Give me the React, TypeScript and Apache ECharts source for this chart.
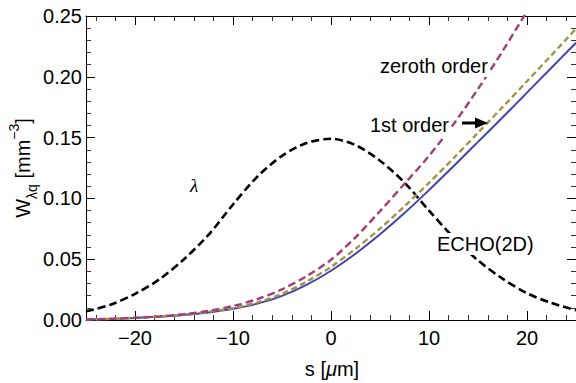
import React, { useEffect, useRef } from 'react';
import * as echarts from 'echarts';

const xs = [-25, -22.5, -20, -17.5, -15, -12.5, -10, -7.5, -5, -2.5, 0, 2.5, 5, 7.5, 10, 12.5, 15, 17.5, 20, 22.5, 25];
const lambdaVals = [0.0072, 0.0125, 0.0215, 0.0335, 0.05, 0.07, 0.095, 0.118, 0.135, 0.1455, 0.149, 0.1438, 0.131, 0.113, 0.09, 0.068, 0.049, 0.034, 0.022, 0.014, 0.008];
const echoVals = [0.0004, 0.0009, 0.0017, 0.0027, 0.0041, 0.0062, 0.0092, 0.0135, 0.0198, 0.0288, 0.0405, 0.0545, 0.0705, 0.088, 0.1068, 0.1265, 0.1465, 0.1665, 0.187, 0.2075, 0.228];
const firstVals = [0.0004, 0.001, 0.0018, 0.0029, 0.0045, 0.0068, 0.0098, 0.0145, 0.0215, 0.0315, 0.0437, 0.0585, 0.0752, 0.0935, 0.1128, 0.133, 0.154, 0.175, 0.1963, 0.2178, 0.2395];
const zerothVals = [0.0004, 0.001, 0.0018, 0.003, 0.0048, 0.0075, 0.0115, 0.0172, 0.0252, 0.036, 0.0495, 0.068, 0.0895, 0.112, 0.135, 0.161, 0.19, 0.221, 0.254, null, null];

const xMajor = [-20, -10, 0, 10, 20];
const xMinor = [-24, -22, -18, -16, -14, -12, -8, -6, -4, -2, 2, 4, 6, 8, 12, 14, 16, 18, 22, 24];
const yMajor = [0, 0.05, 0.1, 0.15, 0.2, 0.25];
const yMinor = [0.01, 0.02, 0.03, 0.04, 0.06, 0.07, 0.08, 0.09, 0.11, 0.12, 0.13, 0.14, 0.16, 0.17, 0.18, 0.19, 0.21, 0.22, 0.23, 0.24];

const FONT = 'Liberation Sans, Arial, sans-serif';

const pairs = (vals: (number | null)[]) => xs.map((x, i) => [x, vals[i]]);

export default function App() {
  const ref = useRef<HTMLDivElement>(null);
  useEffect(() => {
    const chart = echarts.init(ref.current!, null, { renderer: 'svg' });
    const mkX = (pos: 'top' | 'bottom', major: boolean, main: boolean) => ({
      type: 'value',
      position: pos,
      min: -25,
      max: 25,
      gridIndex: 0,
      axisLine: { show: major, onZero: false, lineStyle: { color: '#000', width: 1 } },
      axisTick: {
        show: true,
        inside: true,
        length: major ? 9 : 5,
        customValues: major ? xMajor : xMinor,
        lineStyle: { color: major ? '#000' : '#333', width: 1 },
      },
      axisLabel: {
        show: main,
        customValues: xMajor,
        margin: 8,
        fontSize: 20,
        fontFamily: FONT,
        color: '#000',
        formatter: (v: number) => String(v).replace('-', '\u2212'),
      },
      splitLine: { show: false },
    });
    const mkY = (pos: 'left' | 'right', major: boolean, main: boolean) => ({
      type: 'value',
      position: pos,
      min: 0,
      max: 0.25,
      gridIndex: 0,
      axisLine: { show: major, onZero: false, lineStyle: { color: '#000', width: 1 } },
      axisTick: {
        show: true,
        inside: true,
        length: major ? 9 : 5,
        customValues: major ? yMajor : yMinor,
        lineStyle: { color: major ? '#000' : '#333', width: 1 },
      },
      axisLabel: {
        show: main,
        customValues: yMajor,
        margin: 4,
        fontSize: 20,
        fontFamily: FONT,
        color: '#000',
        formatter: (v: number) => v.toFixed(2),
      },
      splitLine: { show: false },
    });

    const textStyle = (text: string) => ({
      text,
      fontSize: 20,
      fontFamily: FONT,
      fill: '#000',
      verticalAlign: 'middle',
      align: 'left',
      backgroundColor: '#fff',
      padding: [1, 2],
    });

    chart.setOption({
      animation: false,
      backgroundColor: '#fff',
      grid: { left: 86, top: 16, right: -2, bottom: 63, containLabel: false },
      xAxis: [mkX('bottom', true, true), mkX('bottom', false, false), mkX('top', true, false), mkX('top', false, false)],
      yAxis: [mkY('left', true, true), mkY('left', false, false), mkY('right', true, false), mkY('right', false, false)],
      series: [
        {
          name: 'λ', type: 'line', xAxisIndex: 0, yAxisIndex: 0, data: pairs(lambdaVals), smooth: 0.3,
          showSymbol: false, lineStyle: { color: '#000', width: 2.6, type: [8, 4] }, z: 3,
        },
        {
          name: 'ECHO(2D)', type: 'line', xAxisIndex: 0, yAxisIndex: 0, data: pairs(echoVals), smooth: 0.3,
          showSymbol: false, lineStyle: { color: '#4244AA', width: 2 }, z: 4,
        },
        {
          name: '1st order', type: 'line', xAxisIndex: 0, yAxisIndex: 0, data: pairs(firstVals), smooth: 0.3,
          showSymbol: false, lineStyle: { color: '#A39346', width: 2.4, type: [6, 3.5] }, z: 5,
        },
        {
          name: 'zeroth order', type: 'line', xAxisIndex: 0, yAxisIndex: 0, data: pairs(zerothVals), smooth: 0.3,
          showSymbol: false, connectNulls: false, lineStyle: { color: '#A63C76', width: 2.4, type: [7.5, 4] }, z: 6,
        },
      ],
      graphic: [
        { type: 'text', x: 378, y: 66, z: 100, style: textStyle('zeroth order') },
        { type: 'text', x: 368, y: 125, z: 100, style: textStyle('1st order') },
        { type: 'text', x: 435, y: 244, z: 100, style: textStyle('ECHO(2D)') },
        {
          type: 'text', x: 194, y: 185, z: 100,
          style: { text: 'λ', fontSize: 19, fontFamily: 'Liberation Serif, serif', fontStyle: 'italic', fill: '#000', align: 'center', verticalAlign: 'middle' },
        },
        {
          type: 'polygon', z: 100,
          shape: { points: [[462, 121.6], [475, 121.6], [475, 117.5], [488, 123], [475, 128.5], [475, 124.4], [462, 124.4]] },
          style: { fill: '#000' },
        },
        {
          type: 'text', x: 332, y: 369, z: 100,
          style: {
            text: '{n|s [}{i|μ}{n|m]}',
            align: 'center',
            verticalAlign: 'middle',
            rich: {
              n: { fontSize: 20, fontFamily: FONT, fill: '#000' },
              i: { fontSize: 20, fontFamily: FONT, fontStyle: 'italic', fill: '#000' },
            },
          },
        },
        {
          type: 'text', x: 23, y: 168, z: 100, rotation: Math.PI / 2,
          style: {
            text: '{n|W}{sub|λq}{n| [mm}{sup|−3}{n|]}',
            align: 'center',
            verticalAlign: 'middle',
            rich: {
              n: { fontSize: 20, fontFamily: FONT, fill: '#000', lineHeight: 32 },
              sub: { fontSize: 14, fontFamily: FONT, fill: '#000', verticalAlign: 'bottom', lineHeight: 14 },
              sup: { fontSize: 14, fontFamily: FONT, fill: '#000', verticalAlign: 'top', lineHeight: 14 },
            },
          },
        },
      ],
    });
    return () => chart.dispose();
  }, []);
  return <div ref={ref} style={{ position: 'fixed', left: 0, top: 0, width: 576, height: 383, background: '#fff' }} />;
}
